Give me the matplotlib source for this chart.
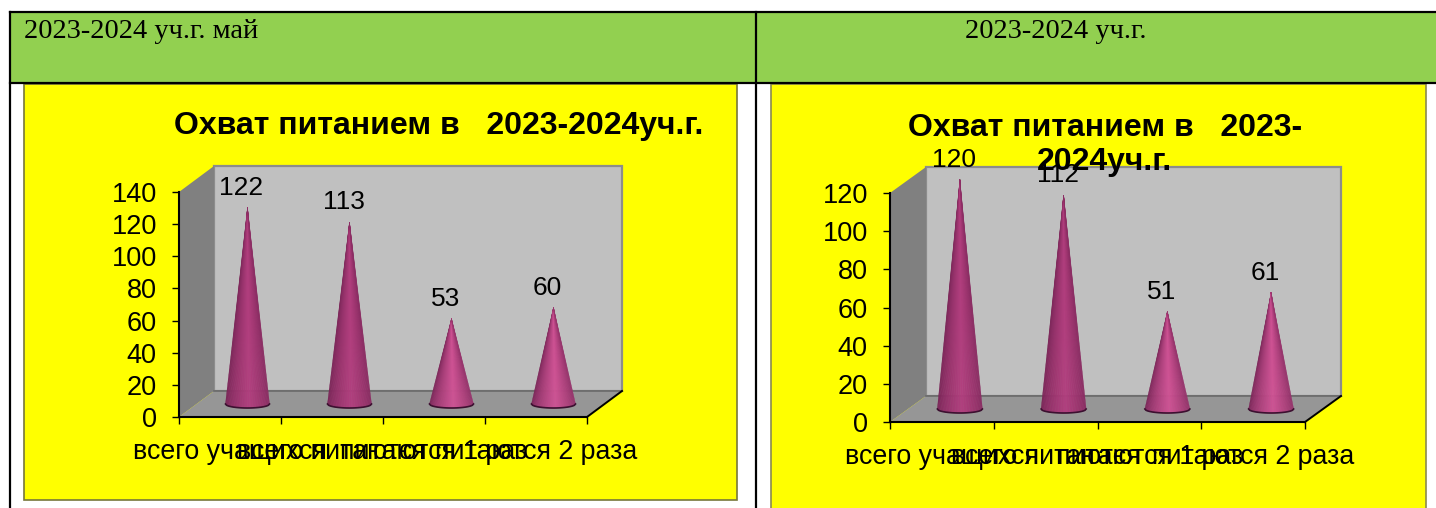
import matplotlib
matplotlib.use('Agg')
import matplotlib.pyplot as plt
import numpy as np
from matplotlib.collections import PolyCollection
from matplotlib.colors import to_rgb
from matplotlib.patches import Polygon, Rectangle

W, H = 1436, 508

categories = ['всего учащихся', 'всего питаются', 'питаются 1 раз', 'питаются 2 раза']
values_left = [122, 113, 53, 60]
values_right = [120, 112, 51, 61]
ticks_left = [0, 20, 40, 60, 80, 100, 120, 140]
ticks_right = [0, 20, 40, 60, 80, 100, 120]
header_left = '2023-2024 уч.г. май'
header_right = '2023-2024 уч.г.'
title_left = 'Охват питанием в   2023-2024уч.г.'
title_right = 'Охват питанием в   2023-\n2024уч.г.'

SANS = 'Liberation Sans'
SERIF = 'Liberation Serif'


def draw_cone(ax, x, base, val, half_w, ell_h, light):
    # cone made of thin slices, shaded across its width
    dark = np.array(to_rgb('#742253'))
    mid = np.array(to_rgb('#cf5294' if light else '#b23e7e'))
    ts = np.linspace(-1, 1, 61)
    polys, cols = [], []
    for t0, t1 in zip(ts[:-1], ts[1:]):
        y0 = base - ell_h * np.sqrt(1 - t0 ** 2)
        y1 = base - ell_h * np.sqrt(1 - t1 ** 2)
        polys.append([(x, base + val), (x + half_w * t0, y0), (x + half_w * t1, y1)])
        c = (t0 + t1) / 2
        k = np.clip(1 - abs(c - 0.1) / 1.1, 0, 1) ** 0.6
        cols.append(dark + (mid - dark) * k)
    ax.add_collection(PolyCollection(polys, facecolors=cols, edgecolors=cols,
                                     linewidths=0.3, zorder=5, clip_on=False))
    ts2 = np.linspace(-1, 1, 41)
    ax.plot(x + half_w * ts2, base - ell_h * np.sqrt(1 - ts2 ** 2), color='#3c1030',
            lw=1.2, zorder=6, clip_on=False)


def draw_chart(fig, box, dx_px, dy_px, values, ticks, half_w_px):
    x0, x1, y_top, y_bot = box
    ax = fig.add_axes([x0 / W, 1 - y_bot / H, (x1 - x0) / W, (y_bot - y_top) / H])
    ax.patch.set_alpha(0)
    ymax = ticks[-1]
    n = len(values)
    ax.set_xlim(-0.5, n - 0.5)
    ax.set_ylim(0, ymax)
    ux = (x1 - x0) / n
    uy = (y_bot - y_top) / ymax
    dx = dx_px / ux
    dy = dy_px / uy

    # 3d box
    l, r = -0.5, n - 0.5
    ax.add_patch(Polygon([(l + dx, dy), (r + dx, dy), (r + dx, ymax + dy), (l + dx, ymax + dy)],
                         fc='#c0c0c0', ec='#8c8c8c', lw=1.6, zorder=1, clip_on=False))
    ax.add_patch(Polygon([(l, 0), (l + dx, dy), (l + dx, ymax + dy), (l, ymax)],
                         fc='#808080', ec='none', zorder=2, clip_on=False))
    ax.add_patch(Polygon([(l, 0), (r, 0), (r + dx, dy), (l + dx, dy)],
                         fc='#969696', ec='none', zorder=2, clip_on=False))
    ax.plot([l + dx, r + dx], [dy, dy], color='#666666', lw=1.1, zorder=3, clip_on=False)
    ax.plot([r, r + dx], [0, dy], color='black', lw=1.4, zorder=3, clip_on=False)

    for i, v in enumerate(values):
        cx = i + dx / 2
        draw_cone(ax, cx, dy / 2, v, half_w_px / ux, 4 / uy, v < 70)
        ax.annotate(str(v), (cx, v + dy / 2), xytext=(-6 * 0.72, 20 * 0.72),
                    textcoords='offset points', ha='center', va='center',
                    fontsize=19, family=SANS, color='black', zorder=7, annotation_clip=False)

    for s in ['top', 'right']:
        ax.spines[s].set_visible(False)
    for s in ['left', 'bottom']:
        ax.spines[s].set_linewidth(1.5)
        ax.spines[s].set_zorder(4)
    ax.set_yticks(ticks)
    ax.set_xticks(np.arange(n + 1) - 0.5)
    ax.set_xticklabels([])
    ax.set_xticks(np.arange(n), labels=categories, minor=True)
    ax.tick_params(axis='x', which='major', length=5, width=1, color='black')
    ax.tick_params(axis='x', which='minor', length=0, pad=16, labelsize=19.3)
    ax.tick_params(axis='y', length=5, width=1, pad=11, labelsize=19.5)
    for t in ax.get_xticklabels(minor=True) + ax.get_yticklabels():
        t.set_fontfamily(SANS)
    return ax


fig = plt.figure(figsize=(W / 100, H / 100), dpi=100, facecolor='white')

# page layer in pixel coordinates: table cells and yellow chart areas
bg = fig.add_axes([0, 0, 1, 1])
bg.set_xlim(0, W)
bg.set_ylim(H, 0)
bg.axis('off')
bg.add_patch(Rectangle((10, 12), W - 10, 71, fc='#92d050', ec='none'))
bg.add_patch(Rectangle((24, 84), 713, 416, fc='#ffff00', ec='#77773a', lw=1.2))
bg.add_patch(Rectangle((771, 84), 655, H - 84 + 5, fc='#ffff00', ec='#8a8a50', lw=1.2))
bg.plot([10, W], [12, 12], color='black', lw=1.6)
bg.plot([10, W], [83, 83], color='black', lw=1.6)
bg.plot([10, 10], [12, H], color='black', lw=1.6)
bg.plot([756, 756], [12, H], color='black', lw=1.6)

draw_chart(fig, (179, 587, 192, 417), 35, 26, values_left, ticks_left, 22)
draw_chart(fig, (890, 1305, 193, 422), 36, 26, values_right, ticks_right, 22.5)

fig.text(24 / W, 1 - 32 / H, header_left, family=SERIF, fontsize=20.5, va='center', ha='left')
fig.text(1056 / W, 1 - 32 / H, header_right, family=SERIF, fontsize=20.5, va='center', ha='center')
fig.text(439 / W, 1 - 126 / H, title_left, family=SANS, fontsize=23, fontweight='bold',
         va='center', ha='center', zorder=8)
fig.text(1105 / W, 1 - 145 / H, title_right, family=SANS, fontsize=23, fontweight='bold',
         va='center', ha='center', linespacing=1.2, zorder=8)

plt.savefig('out.png', dpi=100)
plt.close()
